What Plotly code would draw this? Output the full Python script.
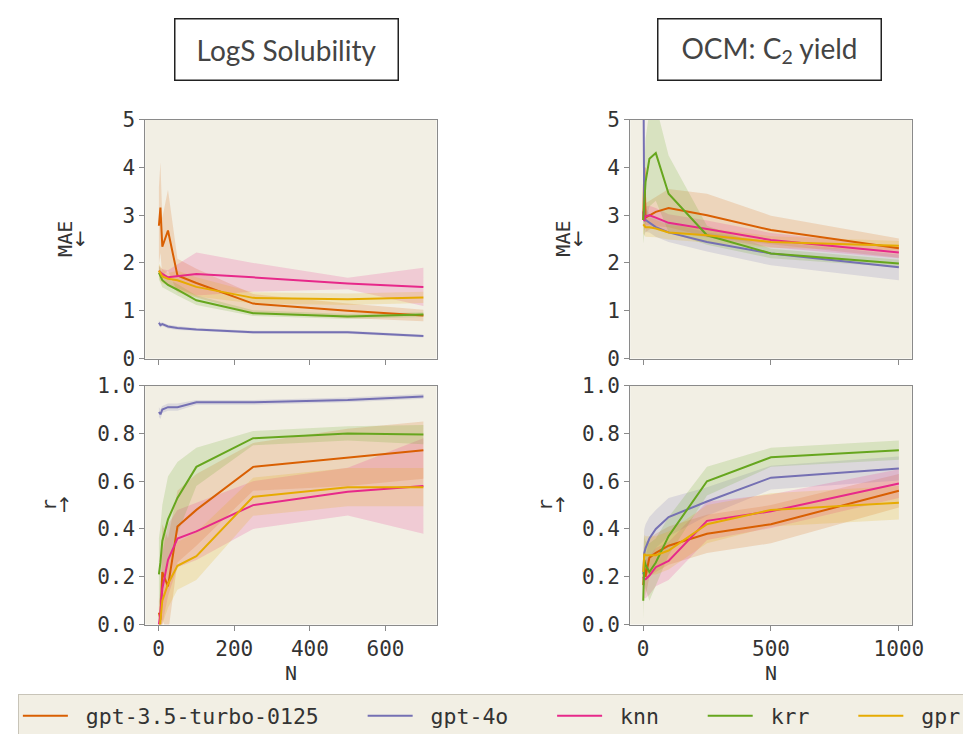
import plotly.graph_objects as go
from plotly.subplots import make_subplots

models = ["gpt-3.5-turbo-0125", "gpt-4o", "knn", "krr", "gpr"]
colors = ["#d95f02", "#7570b3", "#e7298a", "#66a61e", "#e6ab02"]

n_logs = [1, 5, 10, 25, 50, 100, 250, 500, 700]
n_ocm = [1, 5, 10, 25, 50, 100, 250, 500, 1000]

# LogS solubility - MAE (mean, std)
logs_mae = {
    "gpt-3.5-turbo-0125": [2.78, 3.16, 2.34, 2.68, 1.74, 1.58, 1.15, 1.00, 0.90],
    "gpt-4o": [0.75, 0.70, 0.72, 0.67, 0.64, 0.61, 0.55, 0.55, 0.47],
    "knn": [1.84, 1.81, 1.77, 1.70, 1.72, 1.77, 1.70, 1.57, 1.50],
    "krr": [1.80, 1.74, 1.64, 1.54, 1.44, 1.22, 0.95, 0.88, 0.92],
    "gpr": [1.84, 1.77, 1.72, 1.67, 1.64, 1.50, 1.27, 1.24, 1.28],
}
logs_mae_sd = {
    "gpt-3.5-turbo-0125": [0.80, 0.95, 0.60, 0.85, 0.35, 0.30, 0.20, 0.15, 0.12],
    "gpt-4o": [0.05, 0.05, 0.04, 0.04, 0.04, 0.03, 0.03, 0.03, 0.03],
    "knn": [0.10, 0.10, 0.10, 0.15, 0.25, 0.45, 0.30, 0.12, 0.40],
    "krr": [0.15, 0.15, 0.15, 0.12, 0.12, 0.10, 0.06, 0.05, 0.05],
    "gpr": [0.15, 0.15, 0.15, 0.12, 0.20, 0.20, 0.12, 0.12, 0.12],
}

# LogS solubility - r
logs_r = {
    "gpt-3.5-turbo-0125": [0.05, 0.02, 0.22, 0.16, 0.41, 0.48, 0.66, 0.70, 0.73],
    "gpt-4o": [0.89, 0.88, 0.90, 0.91, 0.91, 0.93, 0.93, 0.94, 0.955],
    "knn": [0.00, 0.05, 0.15, 0.27, 0.36, 0.39, 0.50, 0.556, 0.58],
    "krr": [0.21, 0.26, 0.35, 0.44, 0.53, 0.66, 0.78, 0.80, 0.795],
    "gpr": [-0.05, 0.03, 0.10, 0.17, 0.246, 0.286, 0.535, 0.575, 0.575],
}
logs_r_sd = {
    "gpt-3.5-turbo-0125": [0.05, 0.10, 0.20, 0.20, 0.15, 0.15, 0.10, 0.12, 0.12],
    "gpt-4o": [0.02, 0.02, 0.015, 0.015, 0.015, 0.01, 0.01, 0.01, 0.01],
    "knn": [0.05, 0.10, 0.15, 0.15, 0.12, 0.12, 0.10, 0.10, 0.20],
    "krr": [0.15, 0.15, 0.15, 0.18, 0.15, 0.08, 0.03, 0.03, 0.04],
    "gpr": [0.10, 0.10, 0.10, 0.10, 0.10, 0.10, 0.08, 0.08, 0.08],
}

# OCM C2 yield - MAE
ocm_mae = {
    "gpt-3.5-turbo-0125": [2.90, 4.00, 2.95, 3.00, 3.07, 3.15, 3.00, 2.69, 2.31],
    "gpt-4o": [6.50, 2.88, 2.90, 2.84, 2.75, 2.64, 2.44, 2.20, 1.91],
    "knn": [3.08, 2.88, 2.98, 3.00, 2.95, 2.84, 2.71, 2.48, 2.22],
    "krr": [2.90, 3.30, 3.70, 4.18, 4.30, 3.45, 2.58, 2.20, 1.99],
    "gpr": [2.81, 2.78, 2.75, 2.75, 2.72, 2.64, 2.58, 2.44, 2.36],
}
ocm_mae_sd = {
    "gpt-3.5-turbo-0125": [0.30, 0.60, 0.30, 0.30, 0.30, 0.40, 0.45, 0.30, 0.20],
    "gpt-4o": [1.00, 0.30, 0.25, 0.20, 0.20, 0.20, 0.20, 0.25, 0.27],
    "knn": [0.20, 0.20, 0.20, 0.20, 0.20, 0.18, 0.18, 0.15, 0.12],
    "krr": [0.50, 0.80, 0.90, 1.00, 1.00, 0.80, 0.20, 0.10, 0.08],
    "gpr": [0.20, 0.20, 0.20, 0.20, 0.18, 0.15, 0.15, 0.12, 0.10],
}

# OCM C2 yield - r
ocm_r = {
    "gpt-3.5-turbo-0125": [0.165, 0.25, 0.20, 0.28, 0.30, 0.33, 0.38, 0.42, 0.56],
    "gpt-4o": [0.21, 0.30, 0.32, 0.36, 0.40, 0.45, 0.515, 0.615, 0.653],
    "knn": [0.20, 0.19, 0.19, 0.205, 0.24, 0.266, 0.434, 0.474, 0.59],
    "krr": [0.10, 0.27, 0.25, 0.22, 0.26, 0.37, 0.60, 0.70, 0.73],
    "gpr": [0.22, 0.296, 0.29, 0.29, 0.29, 0.31, 0.42, 0.48, 0.51],
}
ocm_r_sd = {
    "gpt-3.5-turbo-0125": [0.08, 0.08, 0.08, 0.08, 0.08, 0.08, 0.08, 0.08, 0.07],
    "gpt-4o": [0.10, 0.10, 0.10, 0.09, 0.08, 0.08, 0.06, 0.05, 0.05],
    "knn": [0.08, 0.08, 0.08, 0.08, 0.08, 0.08, 0.08, 0.07, 0.06],
    "krr": [0.08, 0.10, 0.10, 0.12, 0.10, 0.08, 0.06, 0.04, 0.04],
    "gpr": [0.08, 0.08, 0.08, 0.08, 0.08, 0.08, 0.08, 0.07, 0.07],
}

panels = [
    (1, 1, n_logs, logs_mae, logs_mae_sd),
    (1, 2, n_ocm, ocm_mae, ocm_mae_sd),
    (2, 1, n_logs, logs_r, logs_r_sd),
    (2, 2, n_ocm, ocm_r, ocm_r_sd),
]


def rgba(hex_color, a):
    h = hex_color.lstrip("#")
    return "rgba(%d,%d,%d,%s)" % (int(h[0:2], 16), int(h[2:4], 16), int(h[4:6], 16), a)


fig = make_subplots(rows=2, cols=2)

for row, col, xs, means, sds in panels:
    # shaded bands first, lines on top
    for m, c in zip(models, colors):
        lo = [v - s for v, s in zip(means[m], sds[m])]
        hi = [v + s for v, s in zip(means[m], sds[m])]
        fig.add_trace(go.Scatter(x=xs + xs[::-1], y=hi + lo[::-1], mode="lines",
                                 fill="toself", fillcolor=rgba(c, 0.18),
                                 line=dict(width=0), hoverinfo="skip", showlegend=False),
                      row=row, col=col)
    for m, c in zip(models, colors):
        first = (row == 1 and col == 1)
        label = "\u00a0" + m + ("" if m == "gpr" else "\u00a0\u00a0\u00a0")
        fig.add_trace(go.Scatter(x=xs, y=means[m], mode="lines", name=label,
                                 line=dict(color=c, width=2), showlegend=first,
                                 legendgroup=m),
                      row=row, col=col)

W, H = 971, 734
mono = "DejaVu Sans Mono"
axis_style = dict(showline=True, mirror=True, linecolor="#8a8a8a", linewidth=1,
                  ticks="outside", ticklen=5, tickcolor="#8a8a8a", showgrid=False,
                  zeroline=False, tickfont=dict(family=mono, size=21, color="#333333"))

xl = [139 / W, 434 / W]
xr = [630 / W, 915 / W]
yt = [(H - 350) / H, (H - 103) / H]
yb = [(H - 625) / H, (H - 378) / H]

title_font = dict(family=mono, size=20, color="#333333")

fig.update_layout(
    xaxis=dict(domain=xl, range=[-35, 735], tickvals=[0, 200, 400, 600],
               showticklabels=False, **axis_style),
    xaxis2=dict(domain=xr, range=[-50, 1050], tickvals=[0, 500, 1000],
                showticklabels=False, **axis_style),
    xaxis3=dict(domain=xl, range=[-35, 735], tickvals=[0, 200, 400, 600],
                title=dict(text="N", font=title_font, standoff=4), **axis_style),
    xaxis4=dict(domain=xr, range=[-50, 1050], tickvals=[0, 500, 1000],
                title=dict(text="N", font=title_font, standoff=4), **axis_style),
    yaxis=dict(domain=yt, range=[0, 5], tickvals=[0, 1, 2, 3, 4, 5], **axis_style),
    yaxis2=dict(domain=yt, range=[0, 5], tickvals=[0, 1, 2, 3, 4, 5], **axis_style),
    yaxis3=dict(domain=yb, range=[0, 1], tickvals=[0, 0.2, 0.4, 0.6, 0.8, 1.0],
                tickformat=".1f", **axis_style),
    yaxis4=dict(domain=yb, range=[0, 1], tickvals=[0, 0.2, 0.4, 0.6, 0.8, 1.0],
                tickformat=".1f", **axis_style),
    width=W, height=H,
    margin=dict(l=0, r=0, t=0, b=0),
    paper_bgcolor="#ffffff",
    plot_bgcolor="#f2efe4",
    showlegend=True,
    legend=dict(orientation="h", x=10 / W, y=(H - 697) / H, xanchor="left", yanchor="top",
                bgcolor="#f2efe4", bordercolor="#c8c4b8", borderwidth=1,
                itemwidth=45, font=dict(family=mono, size=21.5, color="#333333")),
)

# y axis titles: rotated word with an upright arrow beside it
y_mid_top = (H - 226) / H
y_mid_bot = (H - 501) / H
for x_word, x_arrow, y_mid, word, arrow in [
        (57, 73, y_mid_top, "MAE", "\u2193"),
        (562, 578, y_mid_top, "MAE", "\u2193"),
        (41, 57, y_mid_bot, "r", "\u2191"),
        (543, 559, y_mid_bot, "r", "\u2191")]:
    fig.add_annotation(x=x_word / W, y=y_mid, xref="paper", yref="paper", text=word,
                       textangle=-90, showarrow=False, xanchor="center", yanchor="middle",
                       font=title_font)
    fig.add_annotation(x=x_arrow / W, y=y_mid, xref="paper", yref="paper", text=arrow,
                       showarrow=False, xanchor="center", yanchor="middle",
                       font=dict(family="DejaVu Sans", size=20, color="#333333"))

# panel title boxes
box_y = (H - 31) / H
for cx, txt in [(282 / W, "LogS Solubility"),
                (771 / W, "OCM: C<sub>2</sub> yield")]:
    fig.add_annotation(x=cx, y=box_y, xref="paper", yref="paper", text=txt,
                       xanchor="center", yanchor="middle", showarrow=False,
                       font=dict(family="Lato", size=28, color="#444444"),
                       bordercolor="#222222", borderwidth=1.5, bgcolor="#ffffff",
                       width=220, height=58, borderpad=1)

fig.write_html("out.html")
